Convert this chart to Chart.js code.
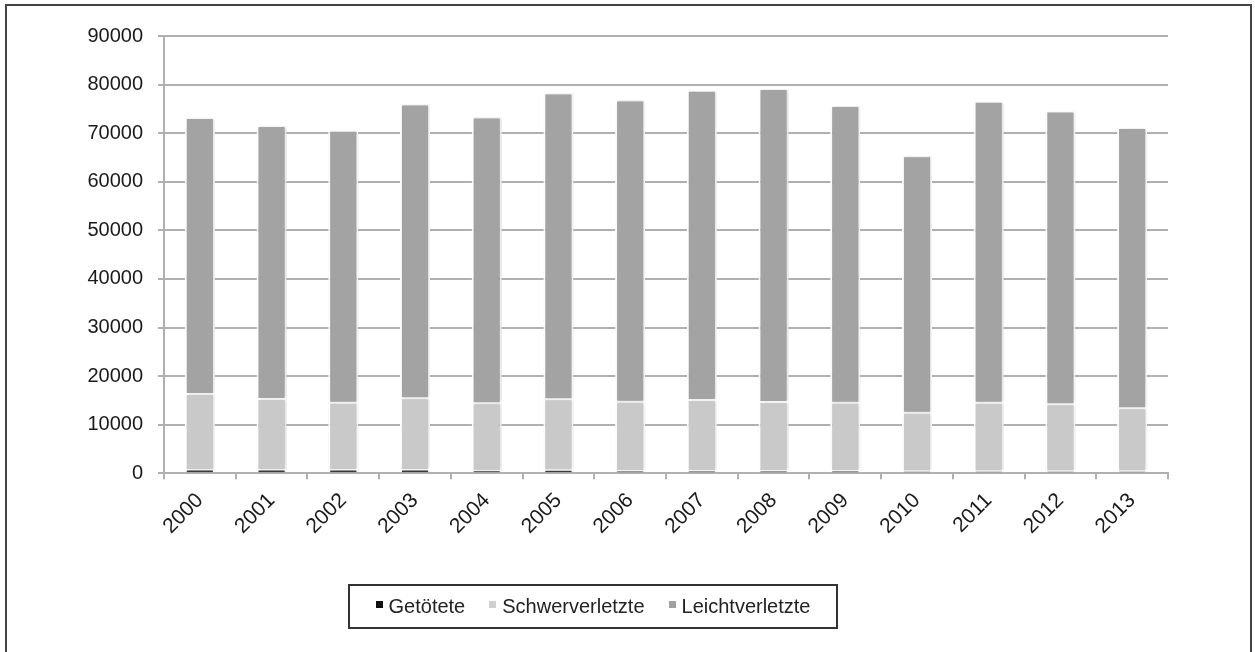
<!DOCTYPE html>
<html>
<head>
<meta charset="utf-8">
<script src="https://cdn.jsdelivr.net/npm/chart.js@4"></script>
<style>
  body { margin: 0; background: #fff; }
  #wrap { position: relative; width: 1255px; height: 652px; overflow: hidden; }
  #frame { position: absolute; left: 5px; top: 4px; width: 1247px; height: 700px; border: 2px solid #444; box-sizing: border-box; }
  #chart { position: absolute; left: 0; top: 0; }
  #legend {
    position: absolute; left: 348px; top: 584px; width: 490px; height: 45px;
    border: 2px solid #333; box-sizing: border-box;
    display: flex; align-items: center; justify-content: center;
    font-family: "Liberation Sans", Arial, sans-serif; font-size: 20px; color: #222;
  }
  .item { display: flex; align-items: center; margin: 0 12px; }
  .mark { width: 7px; height: 7px; margin-right: 6px; position: relative; top: -2px; }
</style>
</head>
<body>
<div id="wrap">
  <div id="frame"></div>
  <canvas id="chart" width="1255" height="652"></canvas>
  <div id="legend"></div>
</div>
<script>
const years = ['2000', '2001', '2002', '2003', '2004', '2005', '2006', '2007', '2008', '2009', '2010', '2011', '2012', '2013'];
const getoetete = [700, 680, 660, 660, 500, 640, 480, 470, 460, 450, 420, 440, 420, 410];
const schwerverletzte = [15620, 14610, 13870, 14770, 13900, 14590, 14260, 14610, 14210, 14080, 12050, 14090, 13780, 12960];
const leichtverletzte = [56790, 56170, 55960, 60490, 58850, 62960, 62010, 63640, 64400, 61050, 52790, 61930, 60250, 57680];
const seriesNames = ['Getötete', 'Schwerverletzte', 'Leichtverletzte'];
const seriesColors = ['#3a3a3a', '#c9c9c9', '#a3a3a3'];
const legendColors = ['#111', '#cfcfcf', '#a0a0a0'];

const font = { family: '"Liberation Sans", Arial, sans-serif', size: 20 };
const xFont = { family: '"Liberation Sans", Arial, sans-serif', size: 21 };
const gridColor = '#b0b0b0';

// faint shadow round the bars
const barShadow = {
    id: 'barShadow',
    beforeDatasetsDraw(chart) {
        const ctx = chart.ctx;
        ctx.save();
        ctx.shadowColor = 'rgba(0,0,0,0.2)';
        ctx.shadowBlur = 3;
        ctx.shadowOffsetX = 1;
        ctx.shadowOffsetY = 0;
    },
    afterDatasetsDraw(chart) {
        chart.ctx.restore();
    }
};

const data = [getoetete, schwerverletzte, leichtverletzte];
const ctx = document.getElementById('chart').getContext('2d');
const chart = new Chart(ctx, {
    type: 'bar',
    data: {
        labels: years,
        datasets: data.map((values, i) => ({
            label: seriesNames[i],
            data: values,
            backgroundColor: seriesColors[i],
            borderColor: '#ffffff',
            borderWidth: i === 0 ? { top: 0.5, bottom: 0, left: 2, right: 2 } : { top: 1, bottom: 1, left: 2, right: 2 },
            borderSkipped: false,
            barPercentage: 0.42,
            categoryPercentage: 1.0
        }))
    },
    options: {
        responsive: false,
        animation: false,
        layout: { padding: { left: 0, right: 87, top: 36, bottom: 0 } },
        plugins: {
            legend: { display: false },
            tooltip: { enabled: false }
        },
        scales: {
            x: {
                stacked: true,
                afterFit: s => { s.height = 178.7; },
                grid: { display: true, drawOnChartArea: false, drawTicks: true, tickLength: 6, color: gridColor, lineWidth: 2, offset: true },
                border: { display: true, color: gridColor, width: 2 },
                ticks: { font: xFont, color: '#1a1a1a', minRotation: 45, maxRotation: 45, padding: 9, autoSkip: false }
            },
            y: {
                stacked: true,
                min: 0,
                max: 90000,
                afterFit: s => { s.width = 164; },
                grid: { color: gridColor, lineWidth: 2, tickLength: 6, drawTicks: true },
                border: { display: true, color: gridColor, width: 2 },
                ticks: { stepSize: 10000, font: font, color: '#1a1a1a', padding: 15, callback: v => String(v) }
            }
        }
    },
    plugins: [barShadow]
});

// legend box below the chart
const legend = document.getElementById('legend');
seriesNames.forEach((name, i) => {
    const item = document.createElement('div');
    item.className = 'item';
    const mark = document.createElement('span');
    mark.className = 'mark';
    mark.style.background = legendColors[i];
    const txt = document.createElement('span');
    txt.textContent = name;
    item.appendChild(mark);
    item.appendChild(txt);
    legend.appendChild(item);
});
</script>
</body>
</html>
